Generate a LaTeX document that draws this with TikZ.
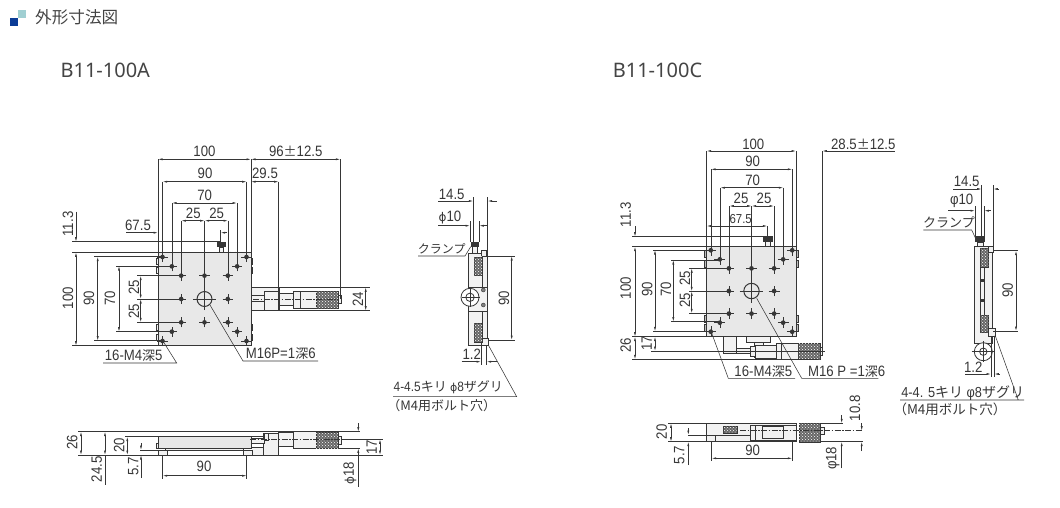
\documentclass[tikz,border=0pt]{standalone}
\usepackage{fontspec}
\usetikzlibrary{arrows.meta,patterns}
\setmainfont{Noto Sans}
\newfontfamily\jpfont{Noto Sans CJK JP}
\newfontfamily\dimfont[FakeStretch=0.88]{Liberation Sans}
\newfontfamily\phifont{DejaVu Sans}
\definecolor{lineink}{HTML}{363636}
\definecolor{platefill}{HTML}{E8E8E8}
\definecolor{partfill}{HTML}{F2F2F2}
\definecolor{titleink}{HTML}{444444}
\definecolor{markblue}{HTML}{0B3C96}
\definecolor{markteal}{HTML}{A0CFD2}
\newcommand{\holeset}{-45/-45,-45/45,45/-45,45/45,-35/-35,-35/35,35/-35,35/35,
    -25/-25,-25/0,-25/25,0/-25,0/25,25/-25,25/0,25/25}
\tikzset{
    lbl/.style={font=\dimfont\fontsize{15}{15}\selectfont, inner sep=0pt, text=lineink},
    rlbl/.style={lbl, rotate=90},
    note/.style={lbl, font=\dimfont\fontsize{15}{15}\selectfont},
    jplbl/.style={lbl, font=\jpfont\fontsize{12}{12}\selectfont},
    model/.style={font=\fontsize{20}{20}\selectfont, inner sep=0pt, text=titleink},
    ext/.style={draw=lineink, line width=.55pt},
    dim/.style={draw=lineink, line width=.55pt, <->},
    part/.style={draw=lineink, line width=.55pt, fill=partfill},
    plate/.style={draw=lineink, line width=.8pt, fill=platefill},
    knurl/.style={draw=lineink, line width=.4pt, fill=black!60, postaction={pattern=crosshatch dots, pattern color=white}},
    centerl/.style={draw=lineink, line width=.45pt, dash pattern=on 6pt off 1.5pt on 1.5pt off 1.5pt},
}
\begin{document}
\begin{tikzpicture}[x=1pt, y=-1pt, >={Latex[length=4.5pt,width=2pt]}]
    \useasboundingbox (0,0) rectangle (1060,507);

    % title
    \fill [markteal] (17.7,10) rectangle (26,18.3);
    \fill [markblue] (10.3,18.3) rectangle (17.7,26);
    \node [font=\jpfont\fontsize{16.6}{17}\selectfont, inner sep=0pt, text=titleink, anchor=west] (title) at (35,17.5) {外形寸法図};
    \node [model] (modelA) at (105.3,70) {B11-100A};
    \node [model] (modelC) at (657.5,70) {B11-100C};

    %% A: plan view
    \draw [part] (251,287.5) rectangle (279,310.7);
    \draw [part] (251,295.7) rectangle (264,301.7);
    \draw [part] (264,291) rectangle (279,310.7);
    \draw [part] (279,293) rectangle (293,305);
    \draw [part] (293,291) rectangle (316,308);
    \draw [ext] (300,291) -- (300,308);
    \draw [knurl] (316,290.7) rectangle (338,308.3);
    \draw [part] (338,295) rectangle (341,303);
    \foreach \ty in {258,267,324,334} {
        \fill [lineink] (251,\ty) rectangle +(2.4,6.5);
        \draw [part] (156,\ty) rectangle +(2,6.5);
    }
    \draw [part] (230,252) arc (180:0:3 and 2.2);
    \fill [lineink] (216.7,241.7) rectangle (226,247.3);
    \draw [part] (219.5,247.3) rectangle (223.5,252);
    \draw [plate] (158,252.3) rectangle (251,345.7);
    \draw [centerl] (253,299) -- (339,299);

    % A: plan holes
    \begin{scope}[shift={(204.5,299)}, x=.933pt, y=.933pt]
        \foreach \hx/\hy in \holeset {
            \fill [lineink] (\hx,\hy) circle (2.5);
            \draw [ext] (\hx-5.5,\hy) -- (\hx+5.5,\hy) (\hx,\hy-5.5) -- (\hx,\hy+5.5);
        }
        \draw [draw=lineink, line width=1pt] (0,0) circle (8);
        \draw [ext] (-12,0) -- (12,0) (0,-12) -- (0,12);
    \end{scope}

    % A: plan dimensions on top
    \draw [ext]
        (158,159.3) -- (158,252) (251,159.3) -- (251,252) (340.3,159.3) -- (340.3,299)
        (278.7,181.7) -- (278.7,310.7)
        (162.7,181.7) -- (162.7,256.7) (246.7,181.7) -- (246.7,256.7)
        (172,203) -- (172,266) (237,203) -- (237,266)
        (181.3,220.7) -- (181.3,275.7) (204.7,220.7) -- (204.7,290) (228,220.7) -- (228,275.7)
        (220.7,230) -- (220.7,241.7);
    \draw [dim] (158,159.3) -- (251,159.3);
    \draw [dim] (251,159.3) -- (340.3,159.3);
    \draw [dim] (162.7,181.7) -- (246.7,181.7);
    \draw [dim] (251,181.7) -- (278.7,181.7);
    \draw [dim] (172,203) -- (237,203);
    \draw [dim] (181.3,220.7) -- (204.7,220.7);
    \draw [dim] (204.7,220.7) -- (228,220.7);
    \draw [ext, ->] (126,232.7) -- (158,232.7);
    \draw [ext, <-] (220.7,232.7) -- (226.5,232.7);
    \node [lbl] (a100) at (204.5,151) {100};
    \node [lbl] (a96) at (295.7,151) {96{\jpfont\fontsize{13}{13}\selectfont ±}12.5};
    \node [lbl] (a90) at (205,173.3) {90};
    \node [lbl] (a295) at (265,173.3) {29.5};
    \node [lbl] (a70) at (204.7,195.7) {70};
    \node [lbl] (a25l) at (193.3,213.3) {25};
    \node [lbl] (a25r) at (216.7,213.3) {25};
    \node [lbl] (a675) at (138,225) {67.5};

    % A: plan dimensions on the left
    \draw [ext]
        (72,241.7) -- (220,241.7) (72,252.3) -- (158,252.3) (72,345.7) -- (158,345.7)
        (94,256.7) -- (162.7,256.7) (94,340.7) -- (162.7,340.7)
        (116,266) -- (172,266) (116,331.7) -- (172,331.7)
        (137,275.7) -- (181.3,275.7) (137,299) -- (181.3,299) (137,322.3) -- (181.3,322.3)
        (253,287.3) -- (370,287.3) (253,310.7) -- (370,310.7);
    \draw [ext, ->] (76,211.7) -- (76,241.7);
    \draw [dim] (76,252.3) -- (76,345.7);
    \draw [dim] (97.7,256.7) -- (97.7,340.7);
    \draw [dim] (119,266) -- (119,331.7);
    \draw [dim] (140.7,275.7) -- (140.7,299);
    \draw [dim] (140.7,299) -- (140.7,322.3);
    \draw [dim] (365.7,287.3) -- (365.7,310.7);
    \node [rlbl] (a113) at (68,224) {11.3};
    \node [rlbl] (aV100) at (68,298) {100};
    \node [rlbl] (aV90) at (89,298) {90};
    \node [rlbl] (aV70) at (110,298) {70};
    \node [rlbl] (aV25t) at (134,287.5) {25};
    \node [rlbl] (aV25b) at (134,311) {25};
    \node [rlbl] (a24) at (358,299) {24};

    % A: plan notes
    \node [note] (aHoles) at (133.7,355.7) {16-M4{\jpfont\fontsize{13}{13}\selectfont 深}5};
    \node [note] (aThread) at (280.7,354) {M16P=1{\jpfont\fontsize{13}{13}\selectfont 深}6};
    \draw [ext] (103,363) -- (176.7,363) -- (162.7,340.7);
    \draw [ext] (318,361) -- (243,361) -- (210,305);

    %% A: side view
    \draw [part] (468.3,253.3) rectangle (483,345.7);
    \draw [part] (482,252) rectangle (487.7,345.7);
    \draw [part] (481.5,250) rectangle (486.5,256);
    \draw [part] (481.5,338) rectangle (488.3,345.7);
    \draw [knurl] (473.7,256.7) rectangle (482.3,275);
    \draw [knurl] (473.7,323.3) rectangle (482.3,341.7);
    \draw [part] (468.3,287.3) rectangle (487.7,311.7);
    \draw [draw=lineink, fill=white, line width=.8pt] (470,297.3) circle (9);
    \draw [draw=lineink, line width=.8pt] (470,297.3) circle (4.2);
    \foreach \sy in {290,305} \draw [draw=lineink, fill=gray] (483.3,\sy) circle (2);
    \fill [lineink] (470.7,241.7) rectangle (479.3,246.7);
    \draw [part] (472.7,246.7) rectangle (477.3,253.3);
    \draw [ext] (461.7,297.3) -- (480,297.3) (470,287) -- (470,307);

    \draw [ext]
        (473.3,197) -- (473.3,241.7) (487.7,197) -- (487.7,253)
        (470,221) -- (470,241.7) (479.3,221) -- (479.3,241.7)
        (488,256) -- (515,256) (488,340) -- (515,340)
        (481,345.7) -- (481,365);
    \draw [draw=lineink, line width=1pt] (486.7,345.7) -- (486.7,365);
    \draw [ext, ->] (438,201) -- (473.3,201);
    \draw [ext, <-] (487.7,201) -- (496.7,201);
    \draw [ext, ->] (438,225.7) -- (470,225.7);
    \draw [ext, <-] (479.3,225.7) -- (487,225.7);
    \draw [dim] (511.7,256) -- (511.7,340);
    \draw [ext, ->] (461.7,361.7) -- (481,361.7);
    \draw [ext, <-] (486.7,361.7) -- (496.7,361.7);
    \node [lbl] (a145) at (451.7,194) {14.5};
    \node [lbl] (aPhi10) at (450,218) {{\phifont\fontsize{12}{12}\selectfont ϕ}10};
    \node [jplbl] (aClamp) at (441.7,248.3) {クランプ};
    \node [rlbl] (aS90) at (504,298) {90};
    \node [lbl] (a12) at (471.7,354) {1.2};
    \node [lbl, font=\dimfont\fontsize{13.5}{14}\selectfont] (aBoreA) at (448.3,387.3) {4-4.5{\jpfont\fontsize{13}{13}\selectfont キリ} {\phifont\fontsize{11}{11}\selectfont ϕ}8{\jpfont\fontsize{13}{13}\selectfont ザグリ}};
    \node [lbl, font=\jpfont\fontsize{13}{13}\selectfont] (aBoltA) at (441.7,406) {（M4用ボルト穴）};
    \draw [ext] (418,256) -- (465,256) -- (470.7,246.7);
    \draw [ext] (393,396.7) -- (516.7,396.7) -- (488.3,345);

    %% A: front view
    \draw [part] (263,433) rectangle (278,455);
    \draw [part] (252,447) -- (263,447) -- (263,455) -- (252,455);
    \draw [part] (264,433) rectangle (268,440);
    \draw [part] (251,438) rectangle (264,443);
    \draw [part] (278,432.7) rectangle (293,446);
    \draw [part] (293,431.7) rectangle (316,448.3);
    \draw [knurl] (316,431.7) rectangle (338.3,448.3);
    \draw [part] (338.3,436) rectangle (341.7,444);
    \draw [plate] (158,436.7) rectangle (251.7,448.3);
    \draw [part] (165,448.3) rectangle (243,450.7);
    \draw [part] (158,450) rectangle (167,455);
    \draw [part] (243,450) rectangle (252,455);
    \draw [part] (156,443) rectangle (158,448.3);
    \draw [draw=lineink, line width=1pt] (105,431.7) -- (278,431.7);
    \draw [centerl] (250,439.3) -- (341,439.3);

    \draw [ext]
        (78,431.7) -- (360,431.7) (125,436.7) -- (263,436.7) (78,455) -- (278,455)
        (140,450) -- (158,450) (162.7,455) -- (162.7,479) (246.7,455) -- (246.7,479)
        (341.7,439.3) -- (383,439.3) (338,448.3) -- (360,448.3) (278,455) -- (383,455);
    \draw [dim] (81,431.7) -- (81,455);
    \draw [dim] (105,431.7) -- (105,455);
    \draw [ext] (105,455) -- (105,485);
    \draw [dim] (127.3,436.7) -- (127.3,455);
    \draw [ext, ->] (141,443) -- (141,450);
    \draw [ext, ->] (141,478) -- (141,455);
    \draw [dim] (162.7,475.7) -- (246.7,475.7);
    \draw [dim] (380,439.3) -- (380,455);
    \draw [ext, ->] (358.3,423) -- (358.3,431.7);
    \draw [ext, ->] (358.3,486.7) -- (358.3,448.3);
    \node [rlbl] (aF26) at (72.3,442.3) {26};
    \node [rlbl] (aF245) at (96.7,469.3) {24.5};
    \node [rlbl] (aF20) at (119.3,445) {20};
    \node [rlbl] (aF57) at (133.3,466.7) {5.7};
    \node [lbl] (aF90) at (204,466.7) {90};
    \node [rlbl] (aF17) at (371.7,447.3) {17};
    \node [rlbl] (aF18) at (350,473.3) {{\phifont\fontsize{12}{12}\selectfont ϕ}18};

    %% C: plan view
    \draw [part] (723.3,336.7) rectangle (736,353.3);
    \draw [part] (746.7,336.7) rectangle (770.7,342.3);
    \draw [part] (754,342.3) rectangle (763.3,357);
    \draw [part] (736,348.3) rectangle (750,353.3);
    \draw [part] (750,346) rectangle (755,356.7);
    \draw [part] (755,345) rectangle (776.7,358.3);
    \draw [part] (776.7,343.3) rectangle (798.3,359.3);
    \draw [ext] (781.7,343.3) -- (781.7,359.3);
    \draw [knurl] (798.3,343.3) rectangle (820,359.3);
    \draw [part] (820,347.3) rectangle (822.3,355);
    \foreach \ty in {250.7,260,315,324} {
        \draw [part, fill=lightgray] (704,\ty) rectangle +(2.7,7);
        \draw [part, fill=lightgray] (796,\ty) rectangle +(2.7,7);
    }
    \draw [part] (776.7,246.7) arc (180:0:3 and 2.2);
    \fill [lineink] (762.7,236) rectangle (772.7,241.7);
    \draw [part] (765,241.7) rectangle (770,246.7);
    \draw [plate] (706.7,246.7) rectangle (796,336.7);
    \draw [centerl] (738,351.3) -- (824,351.3);

    % C: plan holes
    \begin{scope}[shift={(751.5,291)}, x=.905pt, y=.905pt]
        \foreach \hx/\hy in \holeset {
            \fill [lineink] (\hx,\hy) circle (2.6);
            \draw [ext] (\hx-6,\hy) -- (\hx+6,\hy) (\hx,\hy-6) -- (\hx,\hy+6);
        }
        \draw [draw=lineink, line width=1pt] (0,0) circle (8.5);
        \draw [ext] (-13,0) -- (13,0) (0,-13) -- (0,13);
    \end{scope}

    % C: plan dimensions on top
    \draw [ext]
        (706.7,151) -- (706.7,247) (796,151) -- (796,247) (822.3,151) -- (822.3,351.7)
        (711,169.3) -- (711,250) (792.3,169.3) -- (792.3,250)
        (720.3,187.7) -- (720.3,260) (783.3,187.7) -- (783.3,260)
        (729.3,206) -- (729.3,268.3) (751.7,206) -- (751.7,282) (774,206) -- (774,268.3)
        (767.3,226) -- (767.3,236);
    \draw [dim] (706.7,151) -- (796,151);
    \draw [ext, <-] (822.3,151) -- (895,151);
    \draw [dim] (711,169.3) -- (792.3,169.3);
    \draw [dim] (720.3,187.7) -- (783.3,187.7);
    \draw [dim] (729.3,206) -- (751.7,206);
    \draw [dim] (751.7,206) -- (774,206);
    \draw [dim] (706.7,226) -- (767.3,226);
    \node [lbl] (c100) at (753.3,144) {100};
    \node [lbl] (c285) at (863.3,144) {28.5{\jpfont\fontsize{13}{13}\selectfont ±}12.5};
    \node [lbl] (c90) at (752.7,161.7) {90};
    \node [lbl] (c70) at (752.7,180) {70};
    \node [lbl] (c25l) at (741,198.3) {25};
    \node [lbl] (c25r) at (764,198.3) {25};
    \node [lbl, font=\dimfont\fontsize{13}{13}\selectfont] (c675) at (740.7,219.5) {67.5};

    % C: plan dimensions on the left
    \draw [ext]
        (632,236.7) -- (763,236.7) (632,246.7) -- (706.7,246.7) (632,336.7) -- (706.7,336.7)
        (653,250) -- (711,250) (653,331.3) -- (711,331.3)
        (671,260) -- (720.3,260) (671,321.7) -- (720.3,321.7)
        (689,268.3) -- (729.3,268.3) (689,291.3) -- (729.3,291.3) (689,313.3) -- (729.3,313.3)
        (651,351) -- (825,351) (632,359.3) -- (818,359.3);
    \draw [ext, ->] (635,226) -- (635,236.7);
    \draw [dim] (635,246.7) -- (635,336.7);
    \draw [dim] (635,336.7) -- (635,359.3);
    \draw [dim] (655,250) -- (655,331.3);
    \draw [dim] (655,336.7) -- (655,351);
    \draw [dim] (673.3,260) -- (673.3,321.7);
    \draw [dim] (691.7,268.3) -- (691.7,291.3);
    \draw [dim] (691.7,291.3) -- (691.7,313.3);
    \node [rlbl] (c113) at (625.7,215) {11.3};
    \node [rlbl] (cV100) at (625.7,288) {100};
    \node [rlbl] (cV26) at (625.7,345) {26};
    \node [rlbl] (cV90) at (647.3,289.3) {90};
    \node [rlbl] (cV17) at (646.7,343.3) {17};
    \node [rlbl] (cV70) at (666,289) {70};
    \node [rlbl] (cV25t) at (685,278.3) {25};
    \node [rlbl] (cV25b) at (685,300) {25};

    % C: plan notes
    \node [note] (cHoles) at (763.3,371.7) {16-M4{\jpfont\fontsize{13}{13}\selectfont 深}5};
    \node [note] (cThread) at (846.7,371.7) {M16 P =1{\jpfont\fontsize{13}{13}\selectfont 深}6};
    \draw [ext] (795,378.3) -- (728.3,378.3) -- (711,331.3);
    \draw [ext] (878.3,378.3) -- (801.7,378.3) -- (756.7,298.3);

    %% C: side view
    \draw [part] (974.3,246.7) rectangle (992,343);
    \draw [draw=lineink, line width=1.2pt] (992.7,247) -- (992.7,336.7);
    \draw [ext] (980,248) -- (980,333) (984.3,248) -- (984.3,333);
    \draw [knurl] (980,248) rectangle (988.3,266.7);
    \draw [knurl] (980,315) rectangle (988.3,332.3);
    \foreach \sy in {280.7,300} \fill [lineink] (980.5,\sy-1.5) rectangle +(3,3);
    \draw [part] (988,246) rectangle (993.3,252);
    \draw [part] (988,328) rectangle (995,336.7);
    \draw [draw=lineink, fill=white, line width=.8pt] (983.3,351.7) circle (9);
    \draw [draw=lineink, line width=.8pt] (983.3,351.7) circle (3.7);
    \draw [ext] (971.7,351.7) -- (994,351.7) (983.3,341) -- (983.3,362);
    \fill [lineink] (975,235.7) rectangle (985,242.3);
    \draw [part] (977.3,242.3) rectangle (983.3,246.7);

    \draw [ext]
        (981.7,185) -- (981.7,235.7) (993.3,185) -- (993.3,247)
        (975,206) -- (975,235.7) (984.3,206) -- (984.3,235.7)
        (993.3,250.7) -- (1018,250.7) (993.3,331) -- (1018,331)
        (991,336.7) -- (991,377);
    \draw [draw=lineink, line width=1pt] (994.3,336.7) -- (994.3,377);
    \draw [ext, ->] (953.3,189) -- (981.7,189);
    \draw [ext, <-] (993.3,189) -- (999.3,189);
    \draw [ext, ->] (948.3,210.7) -- (975,210.7);
    \draw [ext, <-] (984.3,210.7) -- (991,210.7);
    \draw [dim] (1016,250.7) -- (1016,331);
    \draw [ext, ->] (965,374) -- (991,374);
    \draw [ext, <-] (994.3,374) -- (1000,374);
    \node [lbl] (c145) at (966.7,181) {14.5};
    \node [lbl] (cPhi10) at (961.7,201) {φ10};
    \node [jplbl, font=\jpfont\fontsize{13}{13}\selectfont] (cClamp) at (949,222.7) {クランプ};
    \node [rlbl] (cS90) at (1007.7,290) {90};
    \node [lbl] (c12) at (973.3,367.3) {1.2};
    \node [lbl, font=\dimfont\fontsize{14.5}{15}\selectfont] (cBoreC) at (962.7,393.3) {4-4. 5{\jpfont\fontsize{14}{14}\selectfont キリ} φ8{\jpfont\fontsize{14}{14}\selectfont ザグリ}};
    \node [lbl, font=\jpfont\fontsize{13.5}{14}\selectfont] (cBoltC) at (950,409.3) {（M4用ボルト穴）};
    \draw [ext] (923.3,230) -- (971.7,230) -- (976,239.3);
    \draw [ext] (900,400) -- (1024,400) (1018.3,400) -- (995,335);

    %% C: front view
    \draw [part] (706.7,423.3) rectangle (796.7,441.7);
    \draw [part] (706.7,435) rectangle (715,441.7);
    \draw [knurl] (723.3,425.7) rectangle (736.7,432.7);
    \draw [part] (750,425) rectangle (755,440);
    \draw [part] (755,425) rectangle (796.7,440);
    \draw [part] (762.7,426) rectangle (783,438);
    \draw [ext] (715,435) -- (750,435);
    \draw [knurl] (799,423.3) rectangle (820,441.7);
    \draw [part] (820,427.7) rectangle (824,434.3);
    \draw [centerl] (740,430.7) -- (863,430.7);

    \draw [ext]
        (668,423.3) -- (706.7,423.3) (668,441.7) -- (706.7,441.7)
        (688,435) -- (706.7,435)
        (711.7,441.7) -- (711.7,461) (792.3,441.7) -- (792.3,461)
        (820,423.3) -- (843,423.3) (820,441.7) -- (863,441.7);
    \draw [dim] (671,423.3) -- (671,441.7);
    \draw [ext, ->] (688.3,428) -- (688.3,435);
    \draw [ext, ->] (688.3,465) -- (688.3,441.7);
    \draw [dim] (711.7,458.3) -- (792.3,458.3);
    \draw [ext, ->] (861.7,423) -- (861.7,430.7);
    \draw [ext, ->] (861.7,451) -- (861.7,441.7);
    \draw [ext, ->] (841.7,415) -- (841.7,423.3);
    \draw [ext, ->] (841.7,468.3) -- (841.7,441.7);
    \node [rlbl] (cF20) at (661.7,431.7) {20};
    \node [rlbl] (cF57) at (679.3,455) {5.7};
    \node [lbl] (cF90) at (752.7,450) {90};
    \node [rlbl] (cF108) at (855,408.3) {10.8};
    \node [rlbl] (cF18) at (832.7,458.3) {φ18};
\end{tikzpicture}
\end{document}
